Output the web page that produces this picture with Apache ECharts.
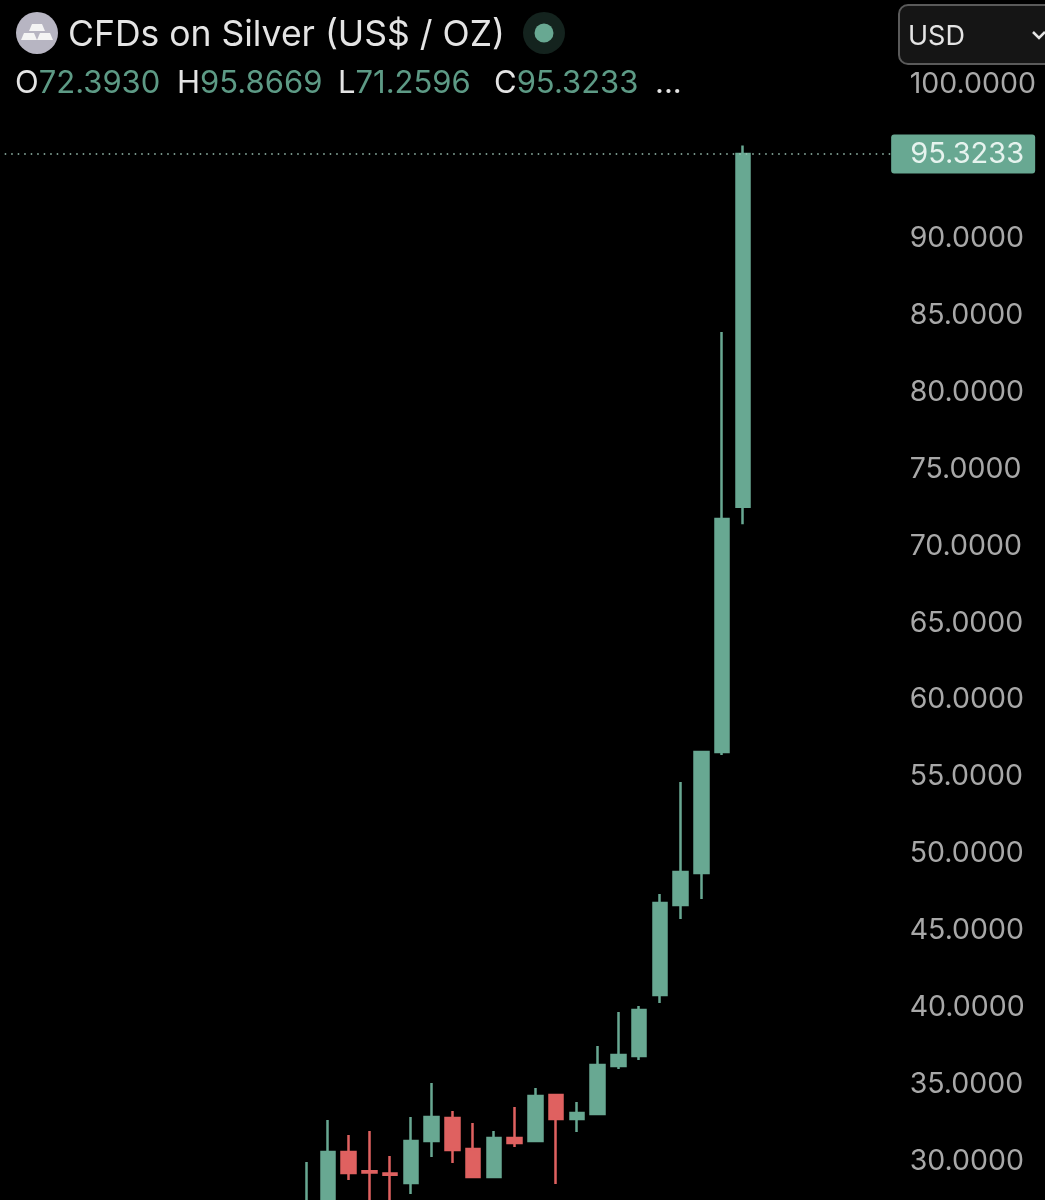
<!DOCTYPE html>
<html>
<head>
<meta charset="utf-8">
<style>html,body{margin:0;padding:0;background:#000}#c{width:1045px;height:1200px}</style>
<script src="https://cdn.jsdelivr.net/npm/echarts@6/dist/echarts.min.js"></script>
</head>
<body>
<div id="c"></div>
<script>
const titleText = 'CFDs on Silver (US$ / OZ)';
const currency = 'USD';
const ohlcNames = ['O', 'H', 'L', 'C'];
const ohlcValues = ['72.3930', '95.8669', '71.2596', '95.3233'];
const lastPrice = 95.3233;
const tickMin = 30, tickMax = 100, tickStep = 5;
const emptyBefore = 15, emptyAfter = 7;

const opens  = [26.00,26.50,30.45,29.20,29.05,28.44,31.17,32.66,30.65,28.83,31.36,31.17,34.16,32.60,32.92,36.04,36.69,40.66,46.51,48.59,56.45,72.393];
const closes = [27.20,30.45,29.09,29.12,28.98,31.17,32.73,30.58,28.83,31.36,31.04,34.09,32.60,32.99,36.11,36.76,39.68,46.64,48.65,56.45,71.60,95.3233];
const lows   = [25.50,26.00,28.64,27.00,27.00,27.73,30.13,29.74,28.80,28.83,30.78,31.17,28.38,31.75,32.92,35.85,36.43,40.14,45.60,46.90,56.26,71.2596];
const highs  = [29.80,32.53,31.56,31.82,30.19,32.73,34.94,33.12,32.34,31.82,33.38,34.61,34.22,33.70,37.34,39.55,39.94,47.22,54.50,56.45,83.75,95.8669];

const GREEN = '#68a892', RED = '#df6160', TXT = '#a8a8a8', WHITE = '#e4e4e4', DIMGREEN = '#5d9a85';
const FONT = 'Inter, "Liberation Sans", Arial, sans-serif';

const blank = n => Array.from({length: n}, () => ['-', '-', '-', '-']);
const candles = opens.map((o, i) => [o, closes[i], lows[i], highs[i]]);
const seriesData = blank(emptyBefore).concat(candles, blank(emptyAfter));
const cats = seriesData.map((_, i) => String(i));

const ohlcX = [15, 177, 338, 494];
const ohlcGraphics = ohlcNames.map((n, i) => ({
  type: 'text', x: ohlcX[i], y: 84, z: 20,
  style: {
    text: '{k|' + n + '}{v|' + ohlcValues[i] + '}',
    verticalAlign: 'middle',
    rich: {
      k: {fill: WHITE, font: '31px ' + FONT},
      v: {fill: DIMGREEN, font: '31px ' + FONT}
    }
  }
}));

const chart = echarts.init(document.getElementById('c'), null, {renderer: 'canvas'});
chart.setOption({
  animation: false,
  backgroundColor: '#000',
  grid: {left: -14.78, top: 82, width: 913.44, height: 1077, outerBoundsMode: 'none'},
  xAxis: {type: 'category', data: cats, show: false, boundaryGap: true},
  yAxis: {
    type: 'value', position: 'right', min: tickMin, max: tickMax, interval: tickStep,
    splitLine: {show: false}, axisLine: {show: false}, axisTick: {show: false},
    axisLabel: {
      color: TXT, fontSize: 28.5, fontFamily: FONT, margin: 11, align: 'left',
      verticalAlign: 'top', lineHeight: 5,
      formatter: v => v.toFixed(4)
    }
  },
  series: [{
    type: 'candlestick', clip: false, barWidth: 14,
    data: seriesData,
    itemStyle: {color: GREEN, color0: RED, borderColor: GREEN, borderColor0: RED, borderWidth: 2.5},
    markLine: {
      silent: true, symbol: 'none', animation: false,
      data: [{yAxis: lastPrice}],
      lineStyle: {color: '#9cc4b5', width: 1.5, type: [1.5, 5]},
      label: {
        show: true, position: 'end', distance: 64.5,
        formatter: () => lastPrice.toFixed(4),
        color: '#e6f3ee', fontSize: 29, fontFamily: FONT,
        backgroundColor: GREEN, borderRadius: 3,
        width: 136, height: 34, lineHeight: 34, padding: [5, 0, 0, 8], align: 'center'
      }
    }
  }],
  graphic: [
    {type: 'circle', shape: {cx: 37, cy: 33, r: 21}, z: 20, style: {fill: '#b7b5c2'}},
    {type: 'polygon', shape: {points: [[32,24],[42,24],[45,31],[29,31]]}, z: 21, style: {fill: '#f4f4f4'}},
    {type: 'polygon', shape: {points: [[24,33],[34,33],[37,40],[21,40]]}, z: 21, style: {fill: '#f4f4f4'}},
    {type: 'polygon', shape: {points: [[40,33],[50,33],[53,40],[37,40]]}, z: 21, style: {fill: '#f4f4f4'}},
    {type: 'text', x: 68, y: 35, z: 20, style: {text: titleText, fill: WHITE, font: '35.5px ' + FONT, verticalAlign: 'middle'}},
    {type: 'circle', shape: {cx: 544, cy: 33, r: 21}, z: 20, style: {fill: '#14231e'}},
    {type: 'circle', shape: {cx: 544, cy: 33, r: 9.5}, z: 21, style: {fill: GREEN}},
    {type: 'text', x: 655, y: 84, z: 20, style: {text: '...', fill: WHITE, font: '31px ' + FONT, verticalAlign: 'middle'}},
    {type: 'rect', shape: {x: 899, y: 5, width: 170, height: 59, r: 9}, z: 20, style: {fill: '#151515', stroke: '#5a5a5a', lineWidth: 2}},
    {type: 'text', x: 908, y: 37, z: 21, style: {text: currency, fill: WHITE, font: '27px ' + FONT, verticalAlign: 'middle'}},
    {type: 'polyline', shape: {points: [[1033,32],[1039,38],[1045,32]]}, z: 21, style: {stroke: WHITE, lineWidth: 2.5, fill: null}}
  ].concat(ohlcGraphics)
});
</script>
</body>
</html>
